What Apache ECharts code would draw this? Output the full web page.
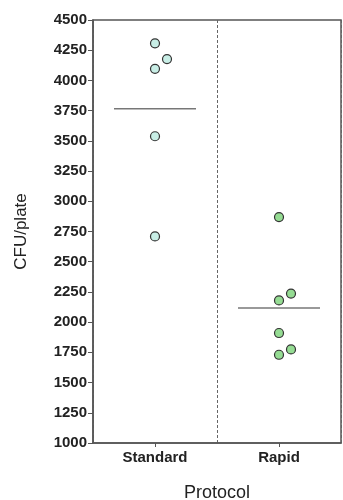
<!DOCTYPE html>
<html>
<head>
<meta charset="utf-8">
<script src="https://cdn.jsdelivr.net/npm/echarts@6/dist/echarts.min.js"></script>
<style>html,body{margin:0;padding:0;background:#fff;}#c{width:343px;height:500px;}</style>
</head>
<body>
<div id="c"></div>
<script>
var categories = ['Standard', 'Rapid'];
var standardValues = [4307, 4177, 4096, 3538, 2709];
var standardJitter = [0, 1, 0, 0, 0];
var rapidValues = [2869, 2236, 2180, 1910, 1774, 1730];
var rapidJitter = [0, 1, 0, 0, 1, 0];
var yTicks = [1000, 1250, 1500, 1750, 2000, 2250, 2500, 2750, 3000, 3250, 3500, 3750, 4000, 4250, 4500];

function mean(a){ return a.reduce(function(s,v){return s+v;},0)/a.length; }
function pts(cat, vals, jit){
  return vals.map(function(v,i){ return {value:[cat, v], symbolOffset:[jit[i]*12, 0]}; });
}

var chart = echarts.init(document.getElementById('c'), null, {renderer:'canvas'});
var font = 'Liberation Sans, Arial, sans-serif';
chart.setOption({
  animation: false,
  backgroundColor: '#fff',
  grid: {left: 93, right: 2, top: 20, bottom: 57, show: true, borderColor: '#555', borderWidth: 1.5,
         backgroundColor: 'transparent', containLabel: false, outerBoundsMode: 'none'},
  xAxis: {
    type: 'category', data: categories, boundaryGap: true,
    name: 'Protocol', nameLocation: 'middle', nameGap: 41,
    nameTextStyle: {fontFamily: font, fontSize: 18, color: '#222'},
    axisLine: {lineStyle: {color: '#555', width: 1.5}},
    axisTick: {show: true, alignWithLabel: true, length: 4, lineStyle: {color: '#555'}},
    axisLabel: {fontFamily: font, fontWeight: 'bold', fontSize: 15, color: '#222', margin: 7},
    splitLine: {show: true, lineStyle: {color: '#666', type: [3,2], width: 1}}
  },
  yAxis: {
    type: 'value', min: yTicks[0], max: yTicks[yTicks.length-1], interval: 250,
    name: 'CFU/plate', nameLocation: 'middle', nameGap: 63, nameRotate: 90,
    nameTextStyle: {fontFamily: font, fontSize: 17, color: '#222'},
    axisLine: {show: true, lineStyle: {color: '#555', width: 1.5}},
    axisTick: {show: true, length: 5, lineStyle: {color: '#555'}},
    axisLabel: {fontFamily: font, fontWeight: 'bold', fontSize: 15, color: '#222', margin: 6,
      formatter: function(v){ return String(v); }},
    splitLine: {show: false}
  },
  series: [
    {type: 'scatter', data: pts(categories[0], standardValues, standardJitter), symbolSize: 9,
     itemStyle: {color: '#c8eee6', borderColor: '#333', borderWidth: 1.2, opacity: 1}},
    {type: 'scatter', data: pts(categories[1], rapidValues, rapidJitter), symbolSize: 9,
     itemStyle: {color: '#95dc93', borderColor: '#333', borderWidth: 1.2, opacity: 1}},
    {type: 'scatter', symbol: 'rect', symbolSize: [82, 1.5],
     data: [[categories[0], mean(standardValues)], [categories[1], mean(rapidValues)]],
     itemStyle: {color: '#555'}, z: 1}
  ]
});
</script>
</body>
</html>
